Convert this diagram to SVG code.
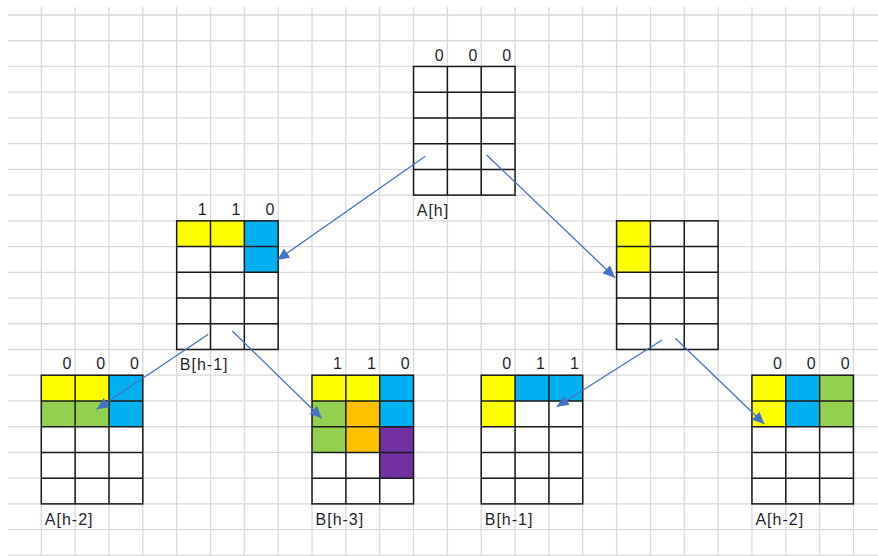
<svg xmlns="http://www.w3.org/2000/svg" width="878" height="556" viewBox="0 0 878 556">
<style>
.gridl{stroke:#d9d9d9;stroke-width:1.3;fill:none}
.bl{stroke:#1a1a1a;stroke-width:1.5;fill:none}
.y{fill:#ffff00}.b{fill:#00b0f0}.g{fill:#92d050}.o{fill:#ffc000}.p{fill:#7030a0}
.t{font-family:"Liberation Sans",Arial,sans-serif;font-size:16px;letter-spacing:1px;fill:#1f1f2f}
.d{text-anchor:end}
.arr{stroke:#4472c4;stroke-width:1.3;fill:none;marker-end:url(#ah)}
</style>
<defs>
<marker id="ah" markerUnits="userSpaceOnUse" markerWidth="13" markerHeight="11" refX="12" refY="5.5" orient="auto">
<path d="M0,0 L12,5.5 L0,11 z" fill="#4472c4"/>
</marker>
<g id="box">
<rect x="0" y="0" width="101.52" height="128.65" class="bl"/>
<path class="bl" d="M33.84,0V128.65M67.68,0V128.65M0,25.73H101.52M0,51.46H101.52M0,77.19H101.52M0,102.92H101.52"/>
</g>
</defs>
<rect width="878" height="556" fill="#ffffff"/>
<g id="grid">
<path class="gridl" d="M41.3,7V556M75.14,7V556M108.98,7V556M142.82,7V556M176.66,7V556M210.5,7V556M244.34,7V556M278.18,7V556M312.02,7V556M345.86,7V556M379.7,7V556M413.54,7V556M447.38,7V556M481.22,7V556M515.06,7V556M548.9,7V556M582.74,7V556M616.58,7V556M650.42,7V556M684.26,7V556M718.1,7V556M751.94,7V556M785.78,7V556M819.62,7V556M853.46,7V556"/>
<path class="gridl" d="M8,15H878M8,40.73H878M8,66.46H878M8,92.19H878M8,117.92H878M8,143.65H878M8,169.38H878M8,195.11H878M8,220.84H878M8,246.57H878M8,272.3H878M8,298.03H878M8,323.76H878M8,349.49H878M8,375.22H878M8,400.95H878M8,426.68H878M8,452.41H878M8,478.14H878M8,503.87H878M8,529.6H878M8,555.33H878"/>
</g>
<g id="node-Ah" transform="translate(413.54,66.46)">
<use href="#box"/>
<text class="t d" x="31" y="-5.8">0</text><text class="t d" x="64.8" y="-5.8">0</text><text class="t d" x="98.7" y="-5.8">0</text>
<text class="t" x="3.2" y="149.6">A[h]</text>
</g>
<g id="node-Bh1-left" transform="translate(176.66,220.84)">
<rect class="y" x="0" y="0" width="33.84" height="25.73"/><rect class="y" x="33.84" y="0" width="33.84" height="25.73"/>
<rect class="b" x="67.68" y="0" width="33.84" height="51.46"/>
<use href="#box"/>
<text class="t d" x="31" y="-5.8">1</text><text class="t d" x="64.8" y="-5.8">1</text><text class="t d" x="98.7" y="-5.8">0</text>
<text class="t" x="3.2" y="149.6">B[h-1]</text>
</g>
<g id="node-right-mid" transform="translate(616.58,220.84)">
<rect class="y" x="0" y="0" width="33.84" height="51.46"/>
<use href="#box"/>
</g>
<g id="node-Ah2-left" transform="translate(41.3,375.22)">
<rect class="y" x="0" y="0" width="67.68" height="25.73"/>
<rect class="g" x="0" y="25.73" width="67.68" height="25.73"/>
<rect class="b" x="67.68" y="0" width="33.84" height="51.46"/>
<use href="#box"/>
<text class="t d" x="31" y="-5.8">0</text><text class="t d" x="64.8" y="-5.8">0</text><text class="t d" x="98.7" y="-5.8">0</text>
<text class="t" x="3.5" y="149.6">A[h-2]</text>
</g>
<g id="node-Bh3" transform="translate(312.02,375.22)">
<rect class="y" x="0" y="0" width="67.68" height="25.73"/>
<rect class="g" x="0" y="25.73" width="33.84" height="51.46"/>
<rect class="o" x="33.84" y="25.73" width="33.84" height="51.46"/>
<rect class="b" x="67.68" y="0" width="33.84" height="51.46"/>
<rect class="p" x="67.68" y="51.46" width="33.84" height="51.46"/>
<use href="#box"/>
<text class="t d" x="31" y="-5.8">1</text><text class="t d" x="64.8" y="-5.8">1</text><text class="t d" x="98.7" y="-5.8">0</text>
<text class="t" x="3.5" y="149.6">B[h-3]</text>
</g>
<g id="node-Bh1-bottom" transform="translate(481.22,375.22)">
<rect class="y" x="0" y="0" width="33.84" height="51.46"/>
<rect class="b" x="33.84" y="0" width="67.68" height="25.73"/>
<use href="#box"/>
<text class="t d" x="31" y="-5.8">0</text><text class="t d" x="64.8" y="-5.8">1</text><text class="t d" x="98.7" y="-5.8">1</text>
<text class="t" x="3.5" y="149.6">B[h-1]</text>
</g>
<g id="node-Ah2-right" transform="translate(751.94,375.22)">
<rect class="y" x="0" y="0" width="33.84" height="51.46"/>
<rect class="b" x="33.84" y="0" width="33.84" height="51.46"/>
<rect class="g" x="67.68" y="0" width="33.84" height="51.46"/>
<use href="#box"/>
<text class="t d" x="31" y="-5.8">0</text><text class="t d" x="64.8" y="-5.8">0</text><text class="t d" x="98.7" y="-5.8">0</text>
<text class="t" x="3.5" y="149.6">A[h-2]</text>
</g>
<g id="connectors">
<line class="arr" x1="425.3" y1="156.3" x2="277.3" y2="260"/>
<line class="arr" x1="486.7" y1="155" x2="615" y2="277.7"/>
<line class="arr" x1="208.3" y1="334.3" x2="96.7" y2="409.3"/>
<line class="arr" x1="232.3" y1="331" x2="321.7" y2="418.3"/>
<line class="arr" x1="662" y1="340" x2="556.7" y2="406.7"/>
<line class="arr" x1="675.3" y1="338.3" x2="764.3" y2="424"/>
</g>
</svg>
